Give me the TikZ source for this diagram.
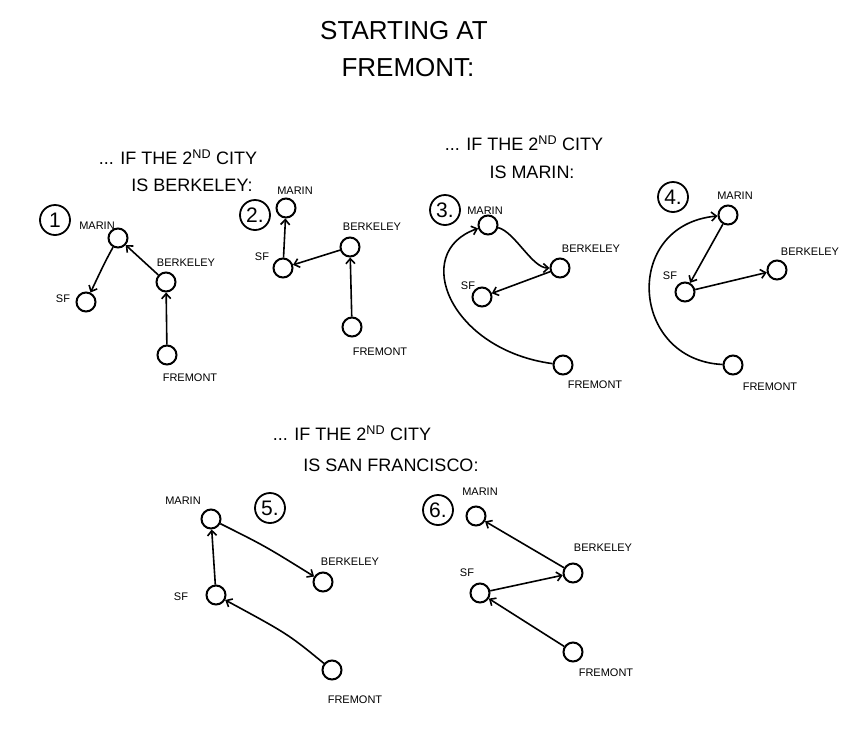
\documentclass[tikz,border=0pt]{standalone}
\usepackage{fontspec}
\setmainfont{Liberation Sans}
\usetikzlibrary{arrows.meta}
\begin{document}
\begin{tikzpicture}[x=1pt,y=-1pt,
  city/.style={circle,draw,line width=2pt,minimum size=19pt,inner sep=0pt},
  lab/.style={font=\fontsize{11}{12}\selectfont},
  num/.style={circle,draw,line width=1.8pt,minimum size=30pt,inner sep=0pt,font=\fontsize{21}{24}\selectfont},
  hd/.style={font=\fontsize{18}{20}\selectfont},
  ttl/.style={font=\fontsize{26}{28}\selectfont},
  edge/.style={line width=1.6pt,-{Straight Barb[length=5pt,width=9pt]}}]
\fill[white] (0,0) rectangle (856,734);
\useasboundingbox (0,0) rectangle (856,734);

% title
\node[ttl] (t1) at (404,31) {STARTING AT};
\node[ttl] (t2) at (408,68) {FREMONT:};

% headers
\node[hd] (h1a) at (178,157) {... IF THE 2\textsuperscript{ND} CITY};
\node[hd] (h1b) at (192,185) {IS BERKELEY:};
\node[hd] (h2a) at (524,143) {... IF THE 2\textsuperscript{ND} CITY};
\node[hd] (h2b) at (532,172) {IS MARIN:};
\node[hd] (h3a) at (352,433) {... IF THE 2\textsuperscript{ND} CITY};
\node[hd] (h3b) at (391,465) {IS SAN FRANCISCO:};

% ---------- diagram 1
\node[num] (n1) at (55,220) {1};
\node[city] (mar1) at (118,238) {};
\node[city] (ber1) at (166,282) {};
\node[city] (sf1) at (86,302) {};
\node[city] (fre1) at (167,355) {};
\node[lab] (lm1) at (97,226) {MARIN};
\node[lab] (lb1) at (186,263) {BERKELEY};
\node[lab] (ls1) at (63,299) {SF};
\node[lab] (lf1) at (190,378) {FREMONT};
\draw[edge] (fre1) -- (ber1);
\draw[edge] (ber1) -- (mar1);
\draw[edge] (mar1) .. controls (105,262) .. (sf1);

% ---------- diagram 2
\node[num] (n2) at (255,215) {2.};
\node[city] (mar2) at (286,208) {};
\node[city] (ber2) at (350,247) {};
\node[city] (sf2) at (283,268) {};
\node[city] (fre2) at (352,327) {};
\node[lab] (lm2) at (295,191) {MARIN};
\node[lab] (lb2) at (372,227) {BERKELEY};
\node[lab] (ls2) at (262,257) {SF};
\node[lab] (lf2) at (380,352) {FREMONT};
\draw[edge] (fre2) -- (ber2);
\draw[edge] (ber2) -- (sf2);
\draw[edge] (sf2) -- (mar2);

% ---------- diagram 3
\node[num] (n3) at (445,210) {3.};
\node[city] (mar3) at (488,225) {};
\node[city] (ber3) at (560,268) {};
\node[city] (sf3) at (482,297) {};
\node[city] (fre3) at (563,365) {};
\node[lab] (lm3) at (485,211) {MARIN};
\node[lab] (lb3) at (591,249) {BERKELEY};
\node[lab] (ls3) at (468,286) {SF};
\node[lab] (lf3) at (595,385) {FREMONT};
\draw[edge] (fre3) .. controls (450,350) and (410,252) .. (mar3);
\draw[edge] (mar3) .. controls (515,232) and (532,268) .. (ber3);
\draw[edge] (ber3) -- (sf3);

% ---------- diagram 4
\node[num] (n4) at (673,197) {4.};
\node[city] (mar4) at (728,215) {};
\node[city] (ber4) at (777,270) {};
\node[city] (sf4) at (685,292) {};
\node[city] (fre4) at (733,365) {};
\node[lab] (lm4) at (735,196) {MARIN};
\node[lab] (lb4) at (810,252) {BERKELEY};
\node[lab] (ls4) at (670,276) {SF};
\node[lab] (lf4) at (770,387) {FREMONT};
\draw[edge] (fre4) .. controls (630,360) and (622,225) .. (mar4);
\draw[edge] (mar4) -- (sf4);
\draw[edge] (sf4) -- (ber4);

% ---------- diagram 5
\node[num] (n5) at (270,508) {5.};
\node[city] (mar5) at (211,519) {};
\node[city] (ber5) at (323,582) {};
\node[city] (sf5) at (216,595) {};
\node[city] (fre5) at (332,670) {};
\node[lab] (lm5) at (183,501) {MARIN};
\node[lab] (lb5) at (350,562) {BERKELEY};
\node[lab] (ls5) at (181,597) {SF};
\node[lab] (lf5) at (355,700) {FREMONT};
\draw[edge] (fre5) .. controls (288,634) .. (sf5);
\draw[edge] (sf5) -- (mar5);
\draw[edge] (mar5) .. controls (265,546) .. (ber5);

% ---------- diagram 6
\node[num] (n6) at (438,510) {6.};
\node[city] (mar6) at (476,516) {};
\node[city] (ber6) at (573,573) {};
\node[city] (sf6) at (480,593) {};
\node[city] (fre6) at (573,652) {};
\node[lab] (lm6) at (480,492) {MARIN};
\node[lab] (lb6) at (603,548) {BERKELEY};
\node[lab] (ls6) at (467,573) {SF};
\node[lab] (lf6) at (606,673) {FREMONT};
\draw[edge] (fre6) -- (sf6);
\draw[edge] (sf6) -- (ber6);
\draw[edge] (ber6) -- (mar6);
\end{tikzpicture}
\end{document}
